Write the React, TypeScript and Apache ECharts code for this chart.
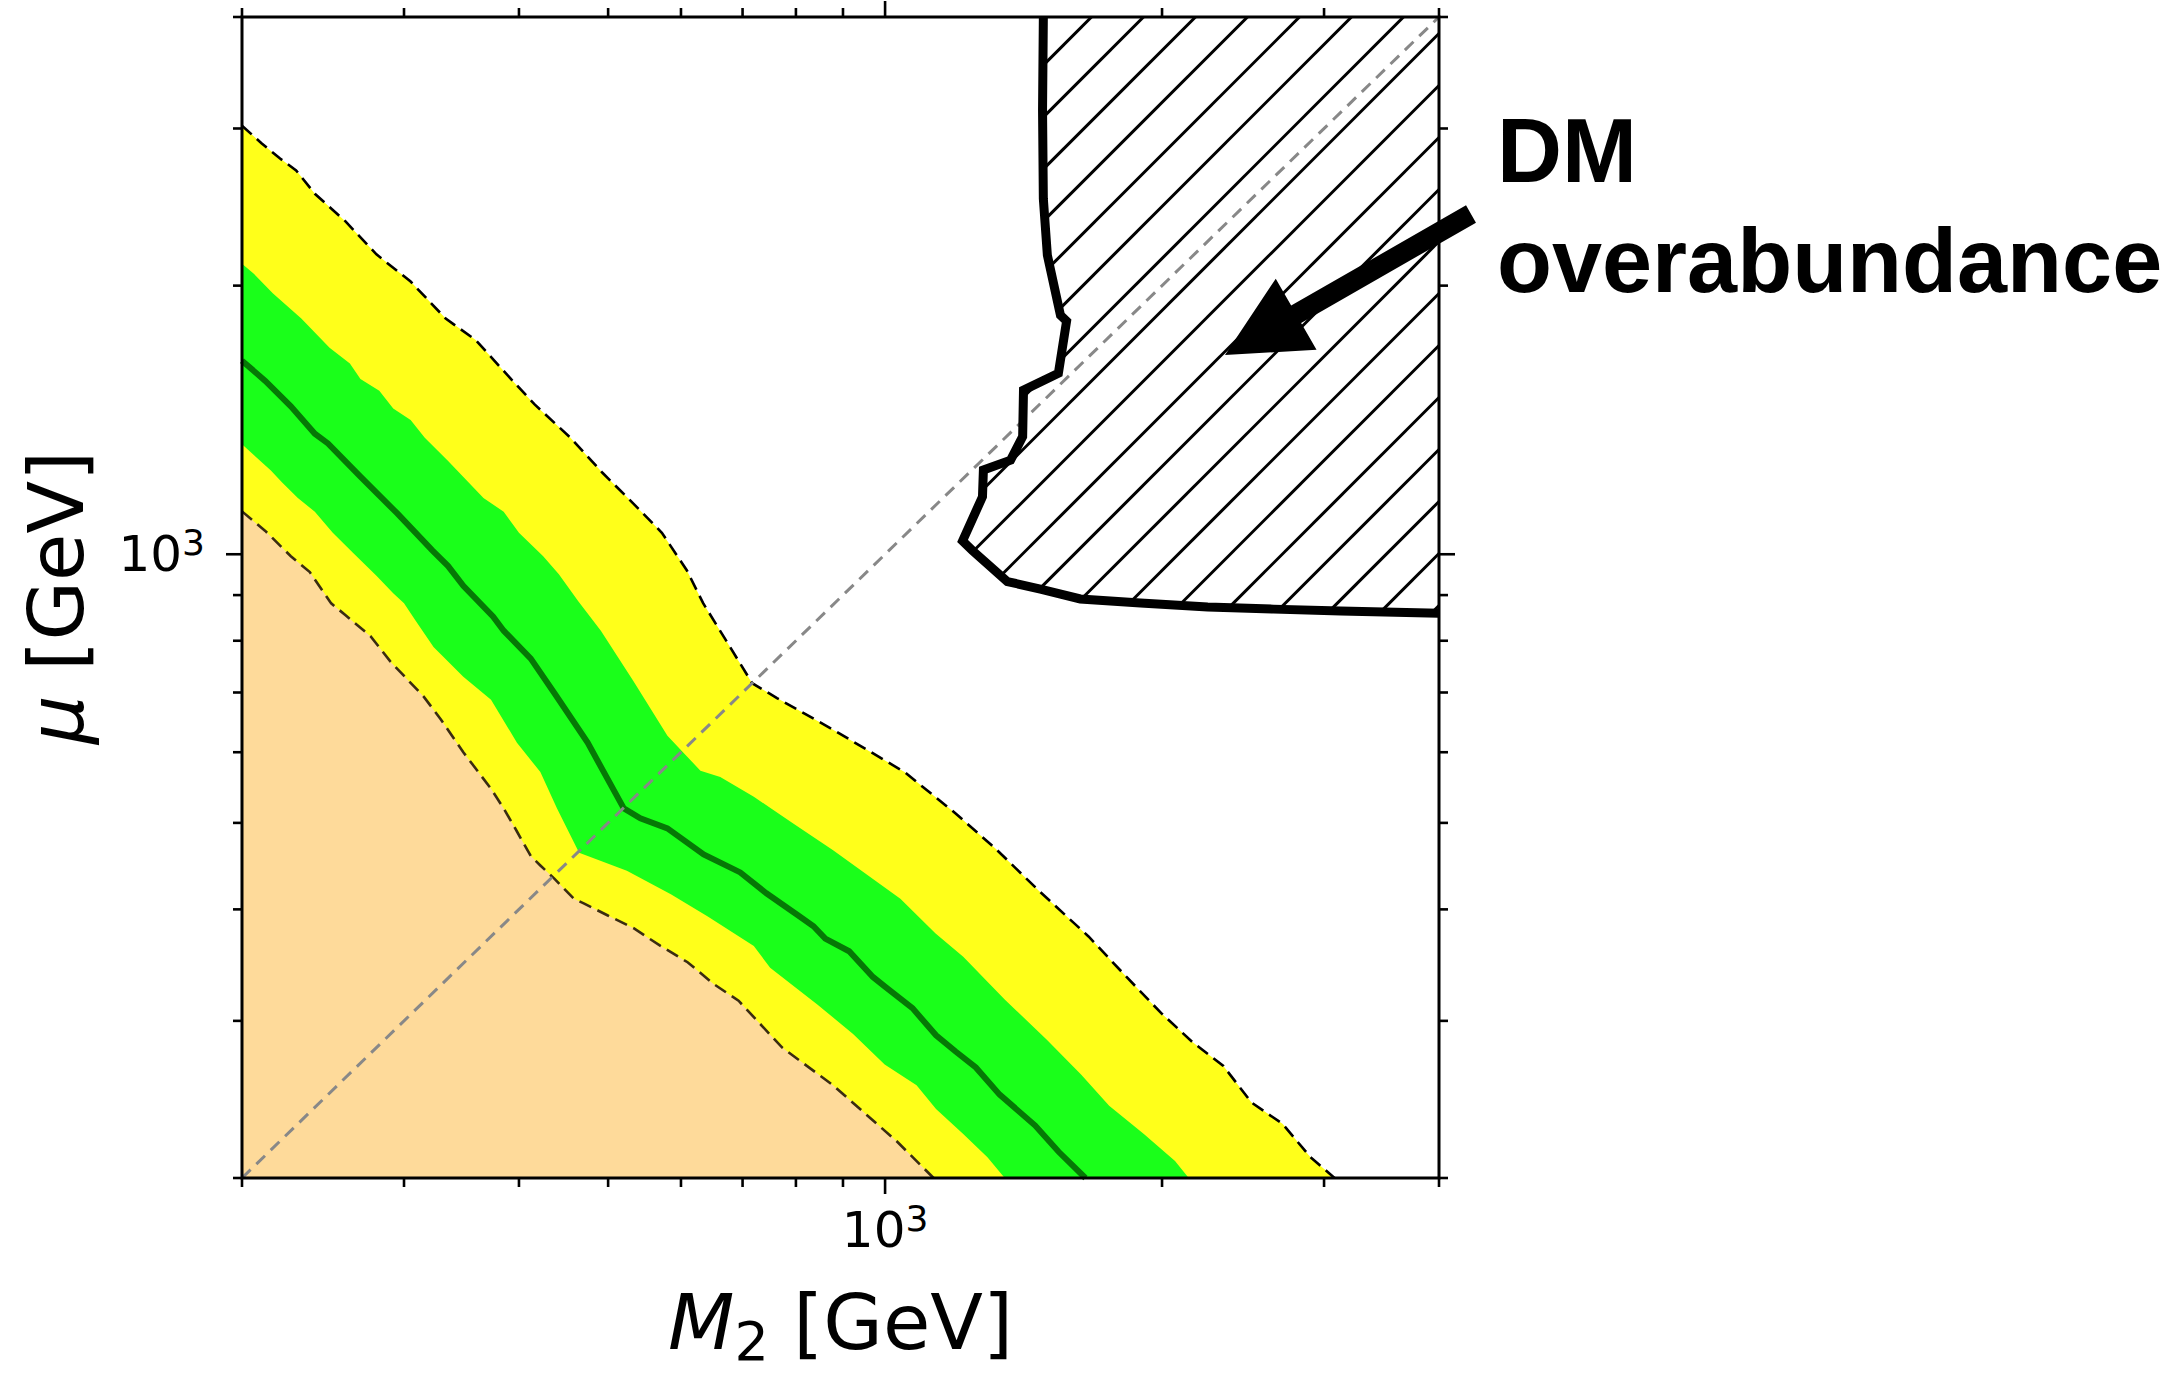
import React, { useEffect, useRef } from 'react';
import * as echarts from 'echarts';

// ---- axis ranges & ticks ----
const M2_MIN = 200;
const M2_MAX = 4000;
const MU_MIN = 200;
const MU_MAX = 4000;
const majorTickValues = [1000];
const minorTickValues = [200, 300, 400, 500, 600, 700, 800, 900, 2000, 3000, 4000];
const labelledTick = 1000;
const tickLabelBase = '10';
const tickLabelExp = '3';

// ---- contour curves: [M2, mu] in GeV ----
const upper2Sigma = [
  [200, 3022], [210, 2888], [220, 2776], [229, 2693], [240, 2535], [259, 2362], [280, 2168], [305, 2021],
  [333, 1837], [359, 1738], [392, 1572], [416, 1472], [455, 1351], [493, 1234], [533, 1139], [572, 1057],
  [609, 959], [634, 882], [673, 798], [717, 717], [763, 690], [878, 636], [1050, 570], [1194, 512],
  [1318, 468], [1472, 419], [1664, 373], [1830, 336], [1996, 306], [2158, 284], [2332, 267], [2502, 243],
  [2704, 230], [2900, 211], [3080, 200],
];
const upper1Sigma = [
  [200, 2116], [206, 2062], [216, 1961], [232, 1837], [249, 1704], [262, 1636], [269, 1572], [282, 1525],
  [292, 1457], [305, 1414], [316, 1351], [335, 1272], [366, 1156], [385, 1116], [400, 1057], [425, 995],
  [442, 950], [464, 886], [491, 821], [533, 720], [580, 626], [630, 572], [662, 563], [720, 535],
  [788, 502], [878, 466], [1039, 411], [1134, 376], [1216, 354], [1349, 317], [1498, 286], [1634, 261],
  [1752, 241], [1911, 224], [2066, 209], [2138, 200],
];
const expected = [
  [200, 1648], [212, 1564], [226, 1465], [240, 1365], [248, 1331], [269, 1222], [295, 1111], [322, 1010],
  [335, 970], [348, 922], [375, 851], [385, 821], [412, 764], [437, 699], [475, 615], [520, 519],
  [542, 506], [580, 493], [635, 461], [696, 440], [743, 417], [804, 394], [836, 383], [861, 371],
  [914, 359], [970, 336], [999, 328], [1071, 310], [1136, 289], [1194, 277], [1255, 266], [1332, 248],
  [1456, 229], [1544, 214], [1651, 200],
];
const lower1Sigma = [
  [200, 1328], [215, 1241], [221, 1204], [230, 1156], [240, 1116], [251, 1057], [264, 1004], [280, 946],
  [292, 904], [300, 881], [309, 842], [323, 787], [348, 729], [373, 687], [398, 615], [422, 570],
  [440, 519], [465, 463], [524, 442], [585, 416], [641, 393], [720, 364], [750, 344], [844, 313],
  [923, 290], [999, 268], [1082, 254], [1136, 239], [1216, 224], [1292, 211], [1349, 200],
];
const lower2Sigma = [
  [200, 1117], [212, 1062], [226, 995], [237, 955], [250, 881], [259, 855], [276, 809], [290, 758],
  [315, 693], [329, 653], [348, 600], [373, 546], [385, 519], [398, 489], [412, 459], [422, 448],
  [437, 433], [459, 411], [471, 406], [499, 394], [533, 381], [570, 364], [610, 349], [651, 330],
  [693, 316], [773, 280], [878, 254], [1029, 220], [1129, 200],
];
const dmOverabundance = [
  [1486, 4000], [1483, 3146], [1486, 2502], [1501, 2164], [1551, 1853], [1575, 1825], [1543, 1595],
  [1414, 1527], [1411, 1355], [1369, 1275], [1279, 1243], [1276, 1160], [1214, 1035], [1245, 1009],
  [1358, 932], [1475, 914], [1630, 891], [1895, 882], [2242, 873], [2644, 868], [3126, 864], [4000, 859],
];
const diagonal = [[200, 200], [4000, 4000]];

const FONT = 'DejaVu Sans';
const YELLOW = '#FFFF1A';
const GREEN = '#1AFF1A';
const ORANGE = '#FEDA9A';

function bandSeries(pts: number[][], color: string, z: number) {
  return {
    type: 'custom',
    coordinateSystem: 'cartesian2d',
    clip: true,
    silent: true,
    z,
    data: [[M2_MIN, MU_MIN]],
    renderItem: (_p: any, api: any) => {
      const ring = [...pts, [M2_MIN, MU_MIN]].map((p) => api.coord(p));
      return { type: 'polygon', shape: { points: ring }, style: { fill: color, stroke: null } };
    },
  };
}

function lineSeries(pts: number[][], color: string, width: number, dash: any, z: number) {
  return {
    type: 'line',
    data: pts,
    showSymbol: false,
    symbol: 'none',
    silent: true,
    clip: true,
    z,
    lineStyle: { color, width, type: dash, cap: 'butt', join: 'miter' },
  };
}

export default function App() {
  const ref = useRef<HTMLDivElement>(null);
  useEffect(() => {
    const chart = echarts.init(ref.current!, null, { renderer: 'svg' });

    const hatchStep = 52;
    const hatchPhase = 1472.5;

    const hatchSeries = {
      type: 'custom',
      coordinateSystem: 'cartesian2d',
      clip: true,
      silent: true,
      z: 8,
      data: [[M2_MAX, MU_MAX]],
      renderItem: (_p: any, api: any) => {
        const poly = [...dmOverabundance, [M2_MAX, MU_MAX]].map((p) => api.coord(p));
        const sums = poly.map((p: number[]) => p[0] + p[1]);
        const cMin = Math.min(...sums);
        const cMax = Math.max(...sums);
        const children: any[] = [];
        let c = hatchPhase + Math.ceil((cMin - hatchPhase) / hatchStep) * hatchStep;
        for (; c <= cMax; c += hatchStep) {
          const hits: number[][] = [];
          for (let i = 0; i < poly.length; i++) {
            const a = poly[i];
            const b = poly[(i + 1) % poly.length];
            const fa = a[0] + a[1] - c;
            const fb = b[0] + b[1] - c;
            if ((fa < 0) !== (fb < 0)) {
              const t = fa / (fa - fb);
              hits.push([a[0] + t * (b[0] - a[0]), a[1] + t * (b[1] - a[1])]);
            }
          }
          hits.sort((p, q) => p[0] - q[0]);
          for (let k = 0; k + 1 < hits.length; k += 2) {
            children.push({
              type: 'line',
              shape: { x1: hits[k][0], y1: hits[k][1], x2: hits[k + 1][0], y2: hits[k + 1][1] },
              style: { stroke: '#000', lineWidth: 3 },
            });
          }
        }
        return { type: 'group', children };
      },
    };

    const frameSeries = {
      type: 'custom',
      coordinateSystem: 'cartesian2d',
      clip: false,
      silent: true,
      z: 20,
      data: [[M2_MIN, MU_MIN]],
      renderItem: (_p: any, api: any) => {
        const [x0, y0] = api.coord([M2_MIN, MU_MIN]);
        const [x1, y1] = api.coord([M2_MAX, MU_MAX]);
        const children: any[] = [];
        const tick = (v: number, len: number) => {
          const px = api.coord([v, MU_MIN])[0];
          const py = api.coord([M2_MIN, v])[1];
          const st = { stroke: '#000', lineWidth: 2.6 };
          children.push({ type: 'line', shape: { x1: px, y1: y0, x2: px, y2: y0 + len }, style: st });
          children.push({ type: 'line', shape: { x1: px, y1: y1, x2: px, y2: y1 - len }, style: st });
          children.push({ type: 'line', shape: { x1: x0, y1: py, x2: x0 - len, y2: py }, style: st });
          children.push({ type: 'line', shape: { x1: x1, y1: py, x2: x1 + len, y2: py }, style: st });
        };
        majorTickValues.forEach((v) => tick(v, 16));
        minorTickValues.forEach((v) => tick(v, 9));
        children.push({
          type: 'rect',
          shape: { x: x0, y: y1, width: x1 - x0, height: y0 - y1 },
          style: { fill: null, stroke: '#000', lineWidth: 3 },
        });
        return { type: 'group', children };
      },
    };

    const fmt = (v: number) => (Math.abs(v - labelledTick) < 1 ? `{b|${tickLabelBase}}{s|${tickLabelExp}}` : '');
    const tickRich = {
      b: { fontFamily: FONT, fontSize: 50, lineHeight: 60, color: '#000' },
      s: { fontFamily: FONT, fontSize: 36, lineHeight: 30, color: '#000', verticalAlign: 'top' },
    };
    const titleRich = {
      i: { fontFamily: FONT, fontStyle: 'italic', fontSize: 77, lineHeight: 92, color: '#000' },
      s: { fontFamily: FONT, fontSize: 54, lineHeight: 40, color: '#000', verticalAlign: 'bottom' },
      n: { fontFamily: FONT, fontSize: 77, lineHeight: 92, color: '#000' },
    };

    const axisCommon = {
      type: 'log',
      logBase: 10,
      axisLine: { show: false },
      axisTick: { show: false },
      minorTick: { show: false },
      splitLine: { show: false },
      nameLocation: 'middle',
    };

    // arrow annotation geometry (pixels)
    const tail = [1471, 214];
    const tip = [1225, 355];
    const shaftHalf = 10;
    const headHalf = 41;
    const headLen = 82;
    const dx = tip[0] - tail[0];
    const dy = tip[1] - tail[1];
    const L = Math.hypot(dx, dy);
    const d = [dx / L, dy / L];
    const n = [-d[1], d[0]];
    const base = [tip[0] - headLen * d[0], tip[1] - headLen * d[1]];
    const P = (p: number[], k: number) => [p[0] + k * n[0], p[1] + k * n[1]];
    const arrowPts = [P(tail, shaftHalf), P(base, shaftHalf), P(base, headHalf), tip, P(base, -headHalf), P(base, -shaftHalf), P(tail, -shaftHalf)];

    const option: any = {
      animation: false,
      backgroundColor: '#fff',
      grid: { left: 242, top: 17, width: 1197, height: 1179, show: false },
      xAxis: {
        ...axisCommon,
        min: M2_MIN,
        max: M2_MAX,
        axisLabel: { formatter: fmt, margin: 22, rich: tickRich, showMinLabel: false, showMaxLabel: false },
        name: '{i|M}{s|2}{n| [GeV]}',
        nameGap: 98,
        nameTextStyle: { rich: titleRich },
      },
      yAxis: {
        ...axisCommon,
        min: MU_MIN,
        max: MU_MAX,
        axisLabel: { formatter: fmt, margin: 37, rich: tickRich, showMinLabel: false, showMaxLabel: false },
        name: '{i|μ}{n| [GeV]}',
        nameGap: 140,
        nameTextStyle: { rich: titleRich },
      },
      series: [
        bandSeries(upper2Sigma, YELLOW, 1),
        bandSeries(upper1Sigma, GREEN, 2),
        bandSeries(lower1Sigma, YELLOW, 3),
        bandSeries(lower2Sigma, ORANGE, 4),
        lineSeries(upper2Sigma, '#000', 2.6, [13, 7], 5),
        lineSeries(lower2Sigma, '#3a2c12', 2.6, [13, 7], 5),
        lineSeries(expected, '#067806', 6, 'solid', 6),
        lineSeries(diagonal, '#888888', 3, [12, 8], 7),
        hatchSeries,
        lineSeries(dmOverabundance, '#000', 9, 'solid', 9),
        frameSeries,
      ],
      graphic: [
        {
          type: 'polygon',
          z: 100,
          shape: { points: arrowPts },
          style: { fill: '#000', stroke: null },
        },
        {
          type: 'text',
          z: 100,
          style: { x: 1497, y: 151, text: 'DM', font: 'bold 90px "Liberation Sans", Arial', fill: '#000', textVerticalAlign: 'middle' },
        },
        {
          type: 'text',
          z: 100,
          style: { x: 1497, y: 261, text: 'overabundance', font: 'bold 90px "Liberation Sans", Arial', fill: '#000', textVerticalAlign: 'middle' },
        },
      ],
    };
    chart.setOption(option);
    return () => chart.dispose();
  }, []);
  return <div ref={ref} style={{ position: 'fixed', left: 0, top: 0, width: 2179, height: 1373, background: '#fff' }} />;
}
